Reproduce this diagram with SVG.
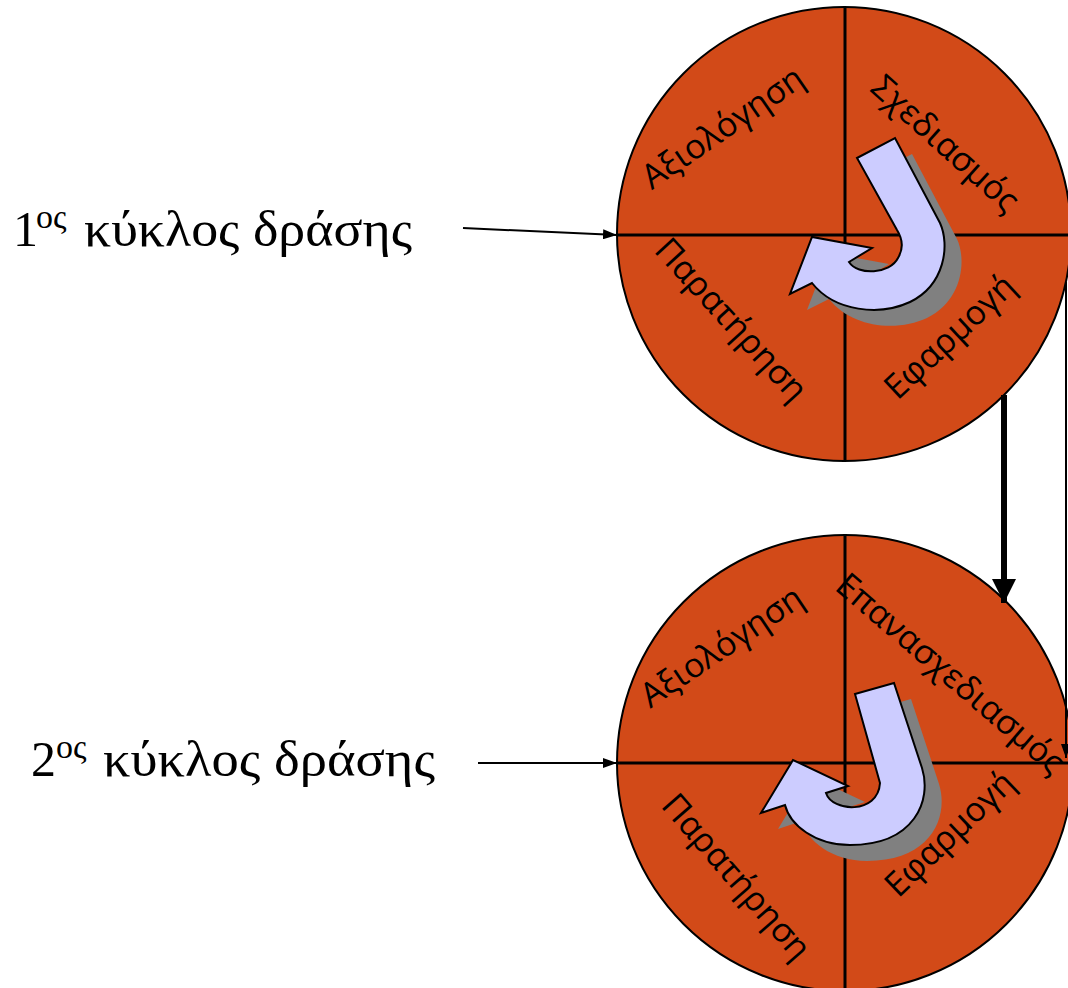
<svg xmlns="http://www.w3.org/2000/svg" width="1068" height="988" viewBox="0 0 1068 988">
<defs>
<style>
.disk{fill:#D24A18;stroke:#000;stroke-width:2}
.div{stroke:#000;stroke-width:3;fill:none}
.cyc{fill:#CCCCFF;stroke:#000;stroke-width:2;stroke-linejoin:miter}
.sh{fill:#808080}
.lbl{font-family:"Open Sans","DejaVu Sans",sans-serif;font-size:34px;fill:#000;text-anchor:middle}
.side{font-family:"Liberation Serif","Times New Roman",serif;fill:#000}
.thin{stroke:#000;stroke-width:2;fill:none}
.thick{stroke:#000;stroke-width:6;fill:none}
</style>
<marker id="ah" viewBox="0 0 14 10" refX="14" refY="5" markerWidth="14" markerHeight="10" markerUnits="userSpaceOnUse" orient="auto">
<path d="M0,0 L14,5 L0,10 Z" fill="#000"/>
</marker>
<marker id="ahBig" viewBox="0 0 24 24" refX="24" refY="12" markerWidth="24" markerHeight="24" markerUnits="userSpaceOnUse" orient="auto">
<path d="M0,0 L24,12 L0,24 Z" fill="#000"/>
</marker>
</defs>
<g id="cycle1">
<circle class="disk" cx="844" cy="234" r="227"/>
<line class="div" x1="617" y1="235" x2="1068" y2="235"/>
<line class="div" x1="845" y1="7" x2="845" y2="461"/>
<path class="sh" transform="translate(17,16)" d="M 857,158 L 895,138 L 940,223 C 950,245 945,285 910,302 C 880,316 835,312 812,283 L 790,294 L 812,237 L 872,248 L 849,262 C 858,276 890,274 898,258 C 904,248 902,238 897,230 Z"/>
<path class="cyc" d="M 857,158 L 895,138 L 940,223 C 950,245 945,285 910,302 C 880,316 835,312 812,283 L 790,294 L 812,237 L 872,248 L 849,262 C 858,276 890,274 898,258 C 904,248 902,238 897,230 Z"/>
<text class="lbl" transform="translate(723,128) rotate(-34.5)" y="11">Αξιολόγηση</text>
<text class="lbl" transform="translate(945,144) rotate(42)" y="11">Σχεδιασμός</text>
<text class="lbl" transform="translate(731,320) rotate(47.5)" y="11">Παρατήρηση</text>
<text class="lbl" transform="translate(950,337) rotate(-43)" y="11">Εφαρμογή</text>
</g>
<g id="cycle2">
<circle class="disk" cx="845" cy="763" r="228"/>
<line class="div" x1="617" y1="763" x2="1068" y2="763"/>
<line class="div" x1="845" y1="535" x2="845" y2="988"/>
<path class="sh" transform="translate(17,16)" d="M 855,694 L 894,683 L 922,768 C 932,800 915,845 850,845 C 815,845 790,825 785,805 L 761,813 L 793,760 L 848,786 L 826,793 C 832,812 878,815 880,783 Z"/>
<path class="cyc" d="M 855,694 L 894,683 L 922,768 C 932,800 915,845 850,845 C 815,845 790,825 785,805 L 761,813 L 793,760 L 848,786 L 826,793 C 832,812 878,815 880,783 Z"/>
<text class="lbl" transform="translate(722,647) rotate(-34)" y="11">Αξιολόγηση</text>
<text class="lbl" transform="translate(950,674) rotate(40.6)" y="11">Επανασχεδιασμός</text>
<text class="lbl" transform="translate(736,877) rotate(49)" y="11">Παρατήρηση</text>
<text class="lbl" transform="translate(950,834) rotate(-43.7)" y="11">Εφαρμογή</text>
</g>
<g id="label1">
<text class="side" x="13" y="246" font-size="50">1</text>
<text class="side" x="36" y="228" font-size="34">ος</text>
<text class="side" x="84" y="246" font-size="50" textLength="328" lengthAdjust="spacingAndGlyphs">κύκλος δράσης</text>
</g>
<g id="label2">
<text class="side" x="31" y="776" font-size="50">2</text>
<text class="side" x="56" y="758" font-size="34">ος</text>
<text class="side" x="103" y="776" font-size="50" textLength="332" lengthAdjust="spacingAndGlyphs">κύκλος δράσης</text>
</g>
<g id="connectors">
<line class="thin" x1="463" y1="228" x2="617" y2="235" marker-end="url(#ah)"/>
<line class="thin" x1="478" y1="763" x2="617" y2="763" marker-end="url(#ah)"/>
<line class="thick" x1="1004" y1="395" x2="1004" y2="603" marker-end="url(#ahBig)"/>
<line class="thin" x1="1066" y1="282" x2="1066" y2="758" marker-end="url(#ah)"/>
</g>
</svg>
